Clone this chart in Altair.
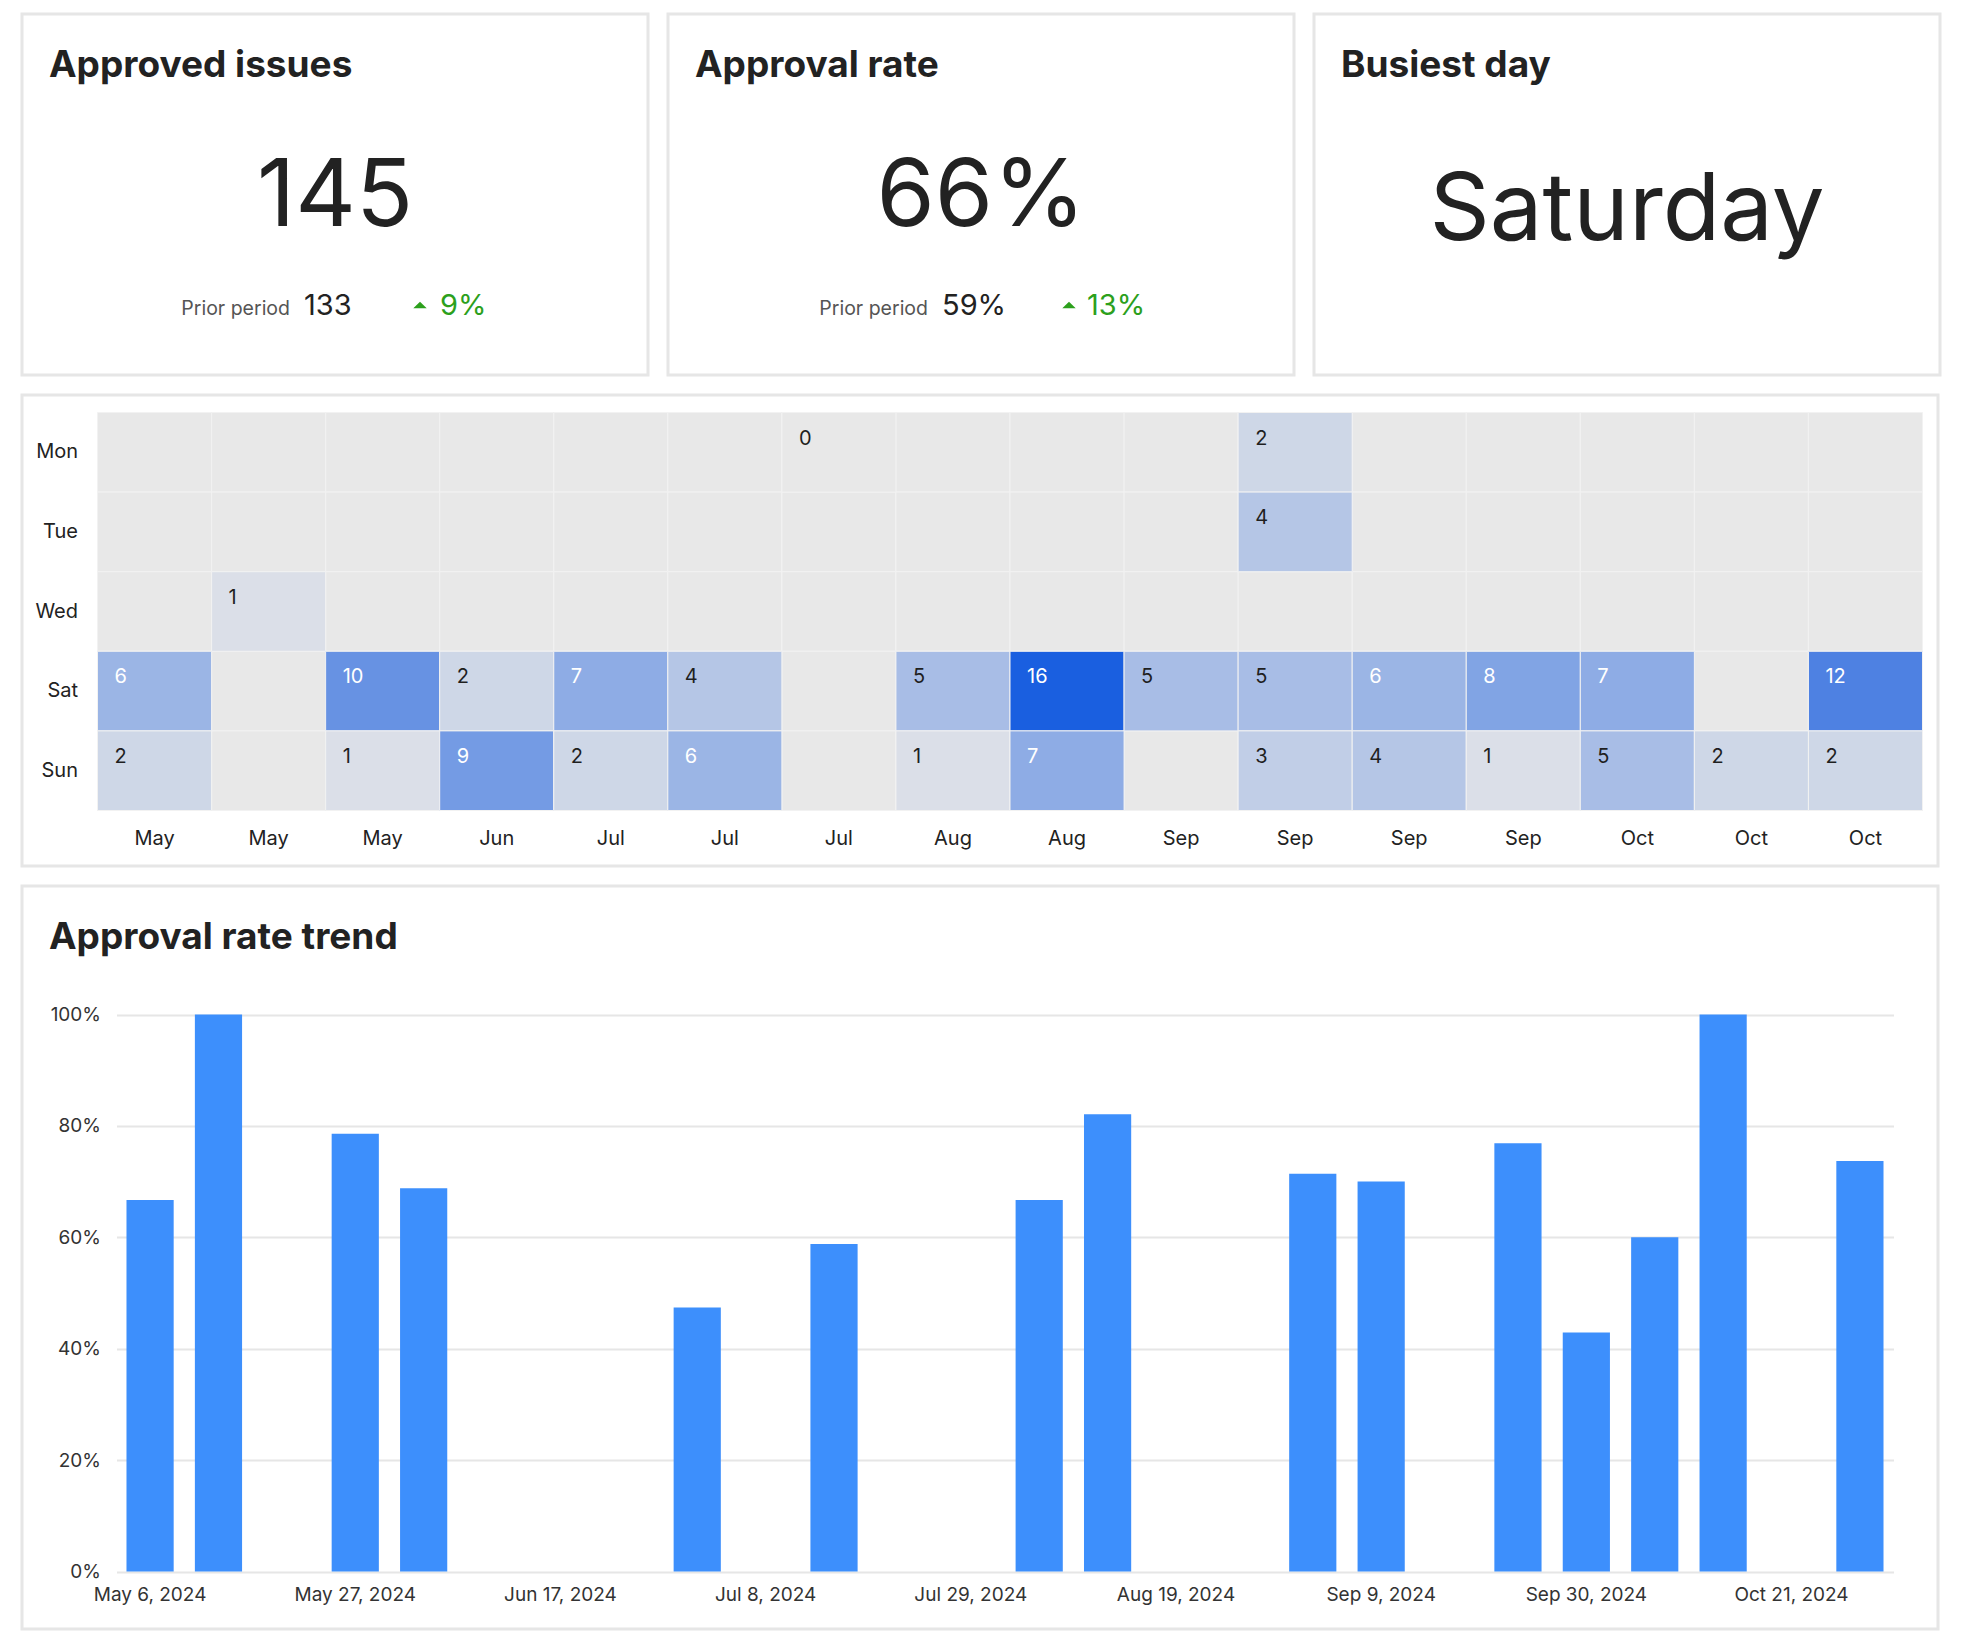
import json
import altair as alt
import pandas as pd

FONT = "Inter"
BORDER = "#e6e6e6"
INK = "#222222"
GREEN = "#2ca01c"
BAR_BLUE = "#3d8ffc"

# ---------------- KPI data ----------------
kpi_titles = ["Approved issues", "Approval rate", "Busiest day"]
kpi_values = ["145", "66%", "Saturday"]
prior_label = "Prior period"
prior_values = ["133", "59%"]
change_values = ["9%", "13%"]

# ---------------- heatmap data ----------------
heat_months = ["May", "May", "May", "Jun", "Jul", "Jul", "Jul", "Aug",
               "Aug", "Sep", "Sep", "Sep", "Sep", "Oct", "Oct", "Oct"]
heat_days = ["Mon", "Tue", "Wed", "Sat", "Sun"]
mon = [None, None, None, None, None, None, 0, None, None, None, 2, None, None, None, None, None]
tue = [None, None, None, None, None, None, None, None, None, None, 4, None, None, None, None, None]
wed = [None, 1, None, None, None, None, None, None, None, None, None, None, None, None, None, None]
sat = [6, None, 10, 2, 7, 4, None, 5, 16, 5, 5, 6, 8, 7, None, 12]
sun = [2, None, 1, 9, 2, 6, None, 1, 7, None, 3, 4, 1, 5, 2, 2]

# ---------------- bar chart data ----------------
week_labels = [f"{d:%b} {d.day}, {d.year}"
               for d in pd.date_range("2024-05-06", periods=26, freq="7D")]
bar_weeks = ["May 6, 2024", "May 13, 2024", "May 27, 2024", "Jun 3, 2024",
             "Jul 1, 2024", "Jul 15, 2024", "Aug 5, 2024", "Aug 12, 2024",
             "Sep 2, 2024", "Sep 9, 2024", "Sep 23, 2024", "Sep 30, 2024",
             "Oct 7, 2024", "Oct 14, 2024", "Oct 28, 2024"]
bar_rates = [0.667, 1.0, 0.786, 0.688, 0.474, 0.588, 0.667, 0.821,
             0.714, 0.70, 0.769, 0.429, 0.60, 1.0, 0.737]

# ---------------- layout constants ----------------
CARD_W = 626
CARD_H = 361
FULL_W = 1916
HEAT_H = 471
BAR_H = 743


def kpi_card(i):
    df = pd.DataFrame({"title": [kpi_titles[i]], "value": [kpi_values[i]]})
    base = alt.Chart(df)
    layers = [
        base.mark_text(font=FONT, fontSize=37, fontWeight=700, color=INK,
                       align="left", baseline="alphabetic").encode(
            x=alt.value(27), y=alt.value(63), text="title:N"),
    ]
    value_y = 212 if i < 2 else 226
    layers.append(
        base.mark_text(font=FONT, fontSize=94, fontWeight=400, color=INK,
                       align="center", baseline="alphabetic").encode(
            x=alt.value(CARD_W / 2), y=alt.value(value_y), text="value:N"))
    if i < 2:
        pos = [(268, 282, 398, 418), (260, 274, 401, 419)][i]
        sub = pd.DataFrame({"label": [prior_label], "prior": [prior_values[i]],
                            "change": [change_values[i]]})
        sb = alt.Chart(sub)
        layers += [
            sb.mark_text(font=FONT, fontSize=19.5, color="#555555", align="right",
                         baseline="alphabetic").encode(
                x=alt.value(pos[0]), y=alt.value(301), text="label:N"),
            sb.mark_text(font=FONT, fontSize=29, color=INK, align="left",
                         baseline="alphabetic").encode(
                x=alt.value(pos[1]), y=alt.value(301), text="prior:N"),
            sb.mark_point(shape="M-1,0.5L1,0.5L0,-0.5Z", filled=True, size=180,
                          color=GREEN, opacity=1).encode(
                x=alt.value(pos[2]), y=alt.value(291)),
            sb.mark_text(font=FONT, fontSize=29, color=GREEN, align="left",
                         baseline="alphabetic").encode(
                x=alt.value(pos[3]), y=alt.value(301), text="change:N"),
        ]
    return alt.layer(*layers).properties(width=CARD_W, height=CARD_H)


cards = alt.hconcat(kpi_card(0), kpi_card(1), kpi_card(2), spacing=16)

# ---------------- heatmap ----------------
rows = []
for day, vals in zip(heat_days, [mon, tue, wed, sat, sun]):
    for c, v in enumerate(vals):
        rows.append({"col": c, "day": day, "count": v})
heat_df = pd.DataFrame(rows)

HX0, HX1, HY0, HY1 = 75.5, 1900.5, 17.5, 415.5
hx = alt.X("col:O",
           scale=alt.Scale(range=[HX0, HX1]),
           axis=alt.Axis(title=None, labelExpr=f"{json.dumps(heat_months)}[datum.value]",
                         domain=False, ticks=False, grid=False, labelAngle=0,
                         labelFont=FONT, labelFontSize=20, labelColor=INK,
                         labelPadding=18, offset=-(HEAT_H - HY1)))
hy = alt.Y("day:N", sort=heat_days,
           scale=alt.Scale(range=[HY0, HY1]),
           axis=alt.Axis(title=None, domain=False, ticks=False, grid=False,
                         labelFont=FONT, labelFontSize=20, labelColor=INK,
                         labelPadding=20, offset=-HX0))

hbase = alt.Chart(heat_df)
heat_bg = hbase.mark_rect(color="#e8e8e8", stroke="#f2f2f2", strokeWidth=1).encode(x=hx, y=hy)
heat_cells = hbase.transform_filter("isValid(datum.count)").mark_rect(
    stroke="#f2f2f2", strokeWidth=1).encode(
    x=hx, y=hy,
    color=alt.Color("count:Q", legend=None,
                    scale=alt.Scale(domain=[0, 16], range=["#e8e8e8", "#1a5fe0"],
                                    interpolate="rgb")))
heat_text = hbase.transform_filter("isValid(datum.count)").mark_text(
    font=FONT, fontSize=20, align="left", baseline="alphabetic", dx=17, dy=32).encode(
    x=alt.X("col:O", bandPosition=0),
    y=alt.Y("day:N", sort=heat_days, bandPosition=0),
    text="count:Q",
    color=alt.condition("datum.count >= 6", alt.value("white"), alt.value("#1f1f1f")))
heat = alt.layer(heat_bg, heat_cells, heat_text).properties(width=FULL_W, height=HEAT_H)

# ---------------- bar chart ----------------
bar_df = pd.DataFrame({"week": bar_weeks, "rate": bar_rates})
BX0, BX1, BY0, BY1 = 94.5, 1871.5, 128.5, 685.5
bx = alt.X("week:O",
           scale=alt.Scale(domain=week_labels, range=[BX0, BX1],
                           paddingInner=0.31, paddingOuter=0.146),
           axis=alt.Axis(title=None, values=week_labels[::3], labelAngle=0,
                         domain=False, ticks=False, grid=False,
                         labelFont=FONT, labelFontSize=19, labelColor="#333333",
                         labelPadding=14, offset=-(BAR_H - BY1)))
by = alt.Y("rate:Q",
           scale=alt.Scale(domain=[0, 1], range=[BY1, BY0]),
           axis=alt.Axis(title=None, format=".0%", values=[0, 0.2, 0.4, 0.6, 0.8, 1.0],
                         domain=False, ticks=False, grid=True, gridColor="#e6e6e6",
                         gridWidth=2, labelFont=FONT, labelFontSize=19,
                         labelColor="#333333", labelPadding=16, offset=-BX0))
bars = alt.Chart(bar_df).mark_bar(color=BAR_BLUE).encode(x=bx, y=by)
bar_title = alt.Chart(pd.DataFrame({"t": ["Approval rate trend"]})).mark_text(
    font=FONT, fontSize=37, fontWeight=700, color=INK, align="left",
    baseline="alphabetic").encode(x=alt.value(27), y=alt.value(63), text="t:N")
trend = alt.layer(bars, bar_title).properties(width=FULL_W, height=BAR_H)

chart = alt.vconcat(cards, heat, trend, spacing=16).properties(
    padding={"left": 12, "top": 4, "right": 4, "bottom": 4},
    background="white",
).configure_view(stroke=BORDER, strokeWidth=3)

chart.save("out.html", embed_options={"renderer": "svg", "actions": False})
